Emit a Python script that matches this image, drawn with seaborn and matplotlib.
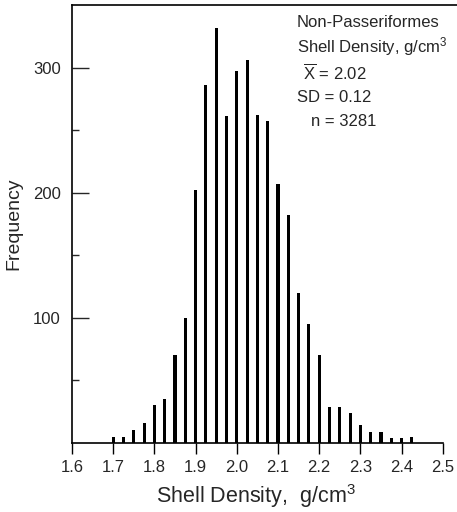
import numpy as np
import matplotlib
matplotlib.use("Agg")
import matplotlib.pyplot as plt
import seaborn as sns

# bin centres (g/cm3) and counts
density = [1.700, 1.725, 1.750, 1.775, 1.800, 1.825, 1.850, 1.875, 1.900, 1.925,
           1.950, 1.975, 2.000, 2.025, 2.050, 2.075, 2.100, 2.125, 2.150, 2.175,
           2.200, 2.225, 2.250, 2.275, 2.300, 2.325, 2.350, 2.375, 2.400, 2.425]
frequency = [5, 5, 10, 16, 30, 35, 70, 100, 202, 286,
             332, 261, 297, 306, 262, 257, 207, 182, 120, 95,
             70, 29, 29, 24, 14, 9, 9, 4, 4, 5]

x_ticks = [1.6, 1.7, 1.8, 1.9, 2.0, 2.1, 2.2, 2.3, 2.4, 2.5]
y_ticks = [100, 200, 300]

info_lines = ["Non-Passeriformes", "Shell Density, g/cm$^3$",
              r"$\overline{\mathrm{X}}$ = 2.02", "SD = 0.12", "n = 3281"]

sns.set_style("ticks")
plt.rcParams["font.family"] = ["Liberation Sans", "DejaVu Sans"]
plt.rcParams["mathtext.fontset"] = "custom"
plt.rcParams["mathtext.rm"] = "Liberation Sans"
plt.rcParams["mathtext.it"] = "Liberation Sans:italic"

fig = plt.figure(figsize=(4.57, 5.12), dpi=100)
ax = fig.add_axes([72 / 457, 1 - 443 / 512, 385 / 457, 438 / 512])

sns.barplot(x=density, y=frequency, native_scale=True, width=0.3,
            color="black", saturation=1, edgecolor="black", linewidth=0, ax=ax)

ax.set_xlim(1.6, 1.6 + 385 / 412)
ax.set_ylim(0, 350)
ax.set_xticks(x_ticks)
ax.set_xticklabels([f"{t:.1f}" for t in x_ticks], fontsize=12)
ax.set_yticks(y_ticks)
ax.set_yticklabels([str(t) for t in y_ticks], fontsize=12)
ax.set_yticks([50, 150, 250], minor=True)

ax.tick_params(axis="x", direction="out", length=8, width=1, pad=4, color="black")
ax.tick_params(axis="y", which="major", direction="in", length=12, width=1, pad=8)
ax.tick_params(axis="y", which="minor", direction="in", length=5, width=1)

for side in ["left", "top", "bottom"]:
    ax.spines[side].set_color("black")
    ax.spines[side].set_linewidth(1.2)
ax.spines["right"].set_visible(False)
ax.spines["bottom"].set_bounds(1.6, 2.5)

ax.set_xlabel("Shell Density,  g/cm$^3$", fontsize=15.5)
ax.xaxis.set_label_coords(0.478, -0.09)
ax.set_ylabel("Frequency", fontsize=14)
ax.yaxis.set_label_coords(-0.13, 0.5)

line_x = [0.584, 0.584, 0.60, 0.584, 0.622]
line_y = [0.961, 0.904, 0.845, 0.788, 0.733]
for txt, lx, ly in zip(info_lines, line_x, line_y):
    ax.text(lx, ly, txt, transform=ax.transAxes, fontsize=12,
            ha="left", va="center")

fig.savefig("out.png", dpi=100)
